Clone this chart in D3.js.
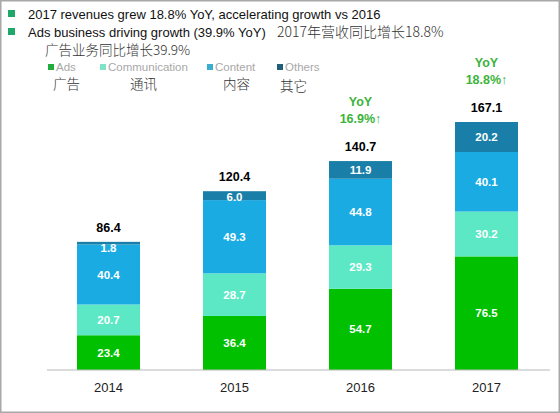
<!DOCTYPE html>
<html>
<head>
<meta charset="utf-8">
<script src="https://cdn.jsdelivr.net/npm/d3@7"></script>
<style>
  body { margin: 0; background: #fff; }
  svg { display: block; font-family: "Liberation Sans", Arial, sans-serif; }
  .cn { font-family: "Noto Sans CJK SC", sans-serif; font-weight: 300; }
</style>
</head>
<body>
<div id="chart"></div>
<script>
const years = ["2014", "2015", "2016", "2017"];
const ads = [23.4, 36.4, 54.7, 76.5];
const communication = [20.7, 28.7, 29.3, 30.2];
const content = [40.4, 49.3, 44.8, 40.1];
const others = [1.8, 6.0, 11.9, 20.2];
const totals = [86.4, 120.4, 140.7, 167.1];
const yoy = [null, null, "16.9%", "18.8%"];

const seriesKeys = ["ads", "communication", "content", "others"];
const seriesNames = ["Ads", "Communication", "Content", "Others"];
const seriesCn = ["广告", "通讯", "内容", "其它"];

const width = 560, height = 413;
const colors = {
    ads: "#00c000",
    communication: "#5ce8c4",
    content: "#1aabe3",
    others: "#1a7fa8"
};
const legendColors = ["#1fae3c", "#80e2c6", "#3aaed0", "#1f5f7a"];

const rows = years.map((yr, i) => ({
    year: yr,
    ads: ads[i],
    communication: communication[i],
    content: content[i],
    others: others[i]
}));

const svg = d3.select("#chart").append("svg")
    .attr("width", width)
    .attr("height", height);

svg.append("rect")
    .attr("x", 0.75).attr("y", 0.75)
    .attr("width", width - 1.5).attr("height", height - 1.5)
    .attr("fill", "#fff")
    .attr("stroke", "#a8a8a8")
    .attr("stroke-width", 1.5);

// header bullets
const bullets = [
    { en: "2017 revenues grew 18.8% YoY, accelerating growth vs 2016", cn: "", y: 19 },
    { en: "Ads business driving growth (39.9% YoY)", cn: "2017年营收同比增长18.8%", y: 37 }
];
bullets.forEach(b => {
    svg.append("rect")
        .attr("x", 8).attr("y", b.y - 9)
        .attr("width", 7).attr("height", 7)
        .attr("fill", "#20a86a");
    svg.append("text")
        .attr("x", 28).attr("y", b.y)
        .style("font-size", "13px")
        .style("fill", "#111")
        .text(b.en);
    if (b.cn) {
        svg.append("text")
            .attr("class", "cn")
            .attr("x", 277).attr("y", b.y)
            .style("font-size", "14px")
            .style("fill", "#333")
            .text(b.cn);
    }
});
svg.append("text")
    .attr("class", "cn")
    .attr("x", 45).attr("y", 55)
    .style("font-size", "13.5px")
    .style("fill", "#333")
    .text("广告业务同比增长39.9%");

// legend
const legendX = [48, 100, 207, 277];
const cnX = [53, 130, 223, 280];
const legend = svg.append("g").attr("class", "legend");
seriesNames.forEach((name, i) => {
    legend.append("rect")
        .attr("x", legendX[i]).attr("y", 64)
        .attr("width", 6).attr("height", 6)
        .attr("fill", legendColors[i]);
    legend.append("text")
        .attr("x", legendX[i] + 8).attr("y", 71)
        .style("font-size", "11.5px")
        .style("fill", "#a8a8a8")
        .text(name);
    legend.append("text")
        .attr("class", "cn")
        .attr("x", cnX[i]).attr("y", i === 3 ? 91 : 89)
        .style("font-size", "13.5px")
        .style("fill", "#333")
        .text(seriesCn[i]);
});

// scales
const x = d3.scaleBand()
    .domain(years)
    .range([77, 518])
    .paddingInner(0.5)
    .paddingOuter(0);

const y = d3.scaleLinear()
    .domain([0, 170])
    .range([370, 370 - 170 * 1.485]);

const stacked = d3.stack().keys(seriesKeys)(rows);

const layer = svg.selectAll(".layer")
    .data(stacked)
    .enter()
    .append("g")
    .attr("class", "layer")
    .attr("fill", d => colors[d.key]);

layer.selectAll("rect")
    .data(d => d)
    .enter()
    .append("rect")
    .attr("x", d => x(d.data.year))
    .attr("y", d => y(d[1]))
    .attr("width", x.bandwidth())
    .attr("height", d => y(d[0]) - y(d[1]));

// segment labels
layer.selectAll(".seg-label")
    .data(d => d.map(p => ({ p, key: d.key })))
    .enter()
    .append("text")
    .attr("class", "seg-label")
    .attr("x", d => x(d.p.data.year) + x.bandwidth() / 2)
    .attr("y", d => {
        const mid = (y(d.p[0]) + y(d.p[1])) / 2;
        return Math.max(mid, y(d.p[1]) + 6) + 4;
    })
    .style("text-anchor", "middle")
    .style("font-size", "11.5px")
    .style("font-weight", "bold")
    .style("fill", "#fff")
    .text(d => d.p.data[d.key].toFixed(1));

// axis
const axis = svg.append("g")
    .attr("transform", `translate(0,${y(0)})`)
    .call(d3.axisBottom(x).tickSize(0).tickPadding(13));
axis.select(".domain").remove();
axis.append("line")
    .attr("x1", 47).attr("x2", 550)
    .attr("stroke", "#b8b8b8")
    .attr("stroke-width", 1);
axis.selectAll(".tick text")
    .style("font-family", "'Liberation Sans', Arial, sans-serif")
    .style("font-size", "13px")
    .style("fill", "#222");

// totals
svg.selectAll(".total")
    .data(years)
    .enter()
    .append("text")
    .attr("class", "total")
    .attr("x", d => x(d) + x.bandwidth() / 2)
    .attr("y", (d, i) => y(totals[i]) - 10)
    .style("text-anchor", "middle")
    .style("font-size", "12.5px")
    .style("font-weight", "bold")
    .style("fill", "#000")
    .text((d, i) => totals[i].toFixed(1));

// YoY growth
const yoyG = svg.selectAll(".yoy")
    .data(years.filter((d, i) => yoy[i]))
    .enter()
    .append("g")
    .attr("class", "yoy")
    .style("font-size", "12.5px")
    .style("font-weight", "bold")
    .style("fill", "#3cb43c")
    .style("text-anchor", "middle");

yoyG.append("text")
    .attr("x", d => x(d) + x.bandwidth() / 2)
    .attr("y", d => y(totals[years.indexOf(d)]) - 55)
    .text("YoY");
yoyG.append("text")
    .attr("x", d => x(d) + x.bandwidth() / 2)
    .attr("y", d => y(totals[years.indexOf(d)]) - 38)
    .text(d => yoy[years.indexOf(d)] + "↑");
</script>
</body>
</html>
